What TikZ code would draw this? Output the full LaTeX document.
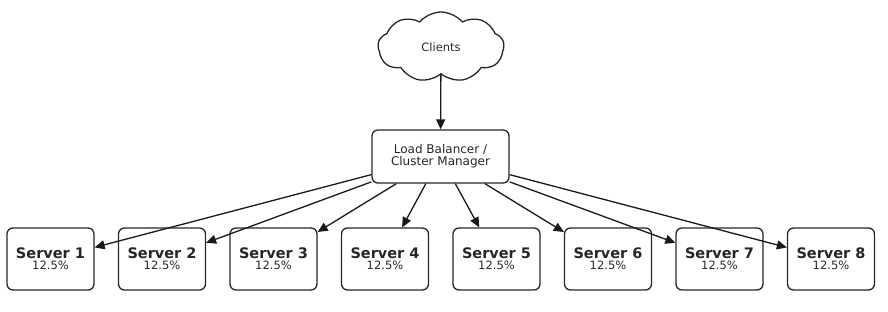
\documentclass[tikz,border=0pt]{standalone}
\usepackage{fontspec}
\setmainfont{DejaVu Sans}
\usetikzlibrary{shapes.symbols,arrows.meta}
\begin{document}
\begin{tikzpicture}[x=1pt,y=-1pt,
  srv/.style={draw=black!85,line width=1.3pt,rounded corners=6pt,minimum width=87pt,minimum height=62pt,align=center,inner sep=0pt,text=black!85},
  conn/.style={line width=1.3pt,draw=black!90,-{Triangle[length=10pt,width=9pt]}}]
\useasboundingbox (0,0) rectangle (888,312);
\node[cloud,cloud puffs=9,cloud puff arc=100,aspect=1.8,draw=black!85,line width=1.3pt,minimum width=126pt,minimum height=70pt,inner sep=0pt,text=black!85] (cl) at (441,47) {\fontsize{11.5}{13}\selectfont Clients};
\node[draw=black!85,line width=1.3pt,rounded corners=6pt,minimum width=137pt,minimum height=53pt,align=center,inner sep=0pt,text=black!85] (lb) at (440.5,156.5) {\fontsize{12}{13.5}\selectfont Load Balancer /\\ \fontsize{12}{13.5}\selectfont Cluster Manager};
\foreach \i in {1,...,8}{
  \node[srv] (s\i) at ({50.5+111.5*(\i-1)},259) {\fontsize{14.5}{16}\selectfont\bfseries Server \i\\[-1pt] \fontsize{11.5}{13}\selectfont 12.5\%};
}
\draw[conn] (cl) -- (lb);
\foreach \i in {1,...,8}{
  \draw[conn] (lb) -- (s\i);
}
\end{tikzpicture}
\end{document}
